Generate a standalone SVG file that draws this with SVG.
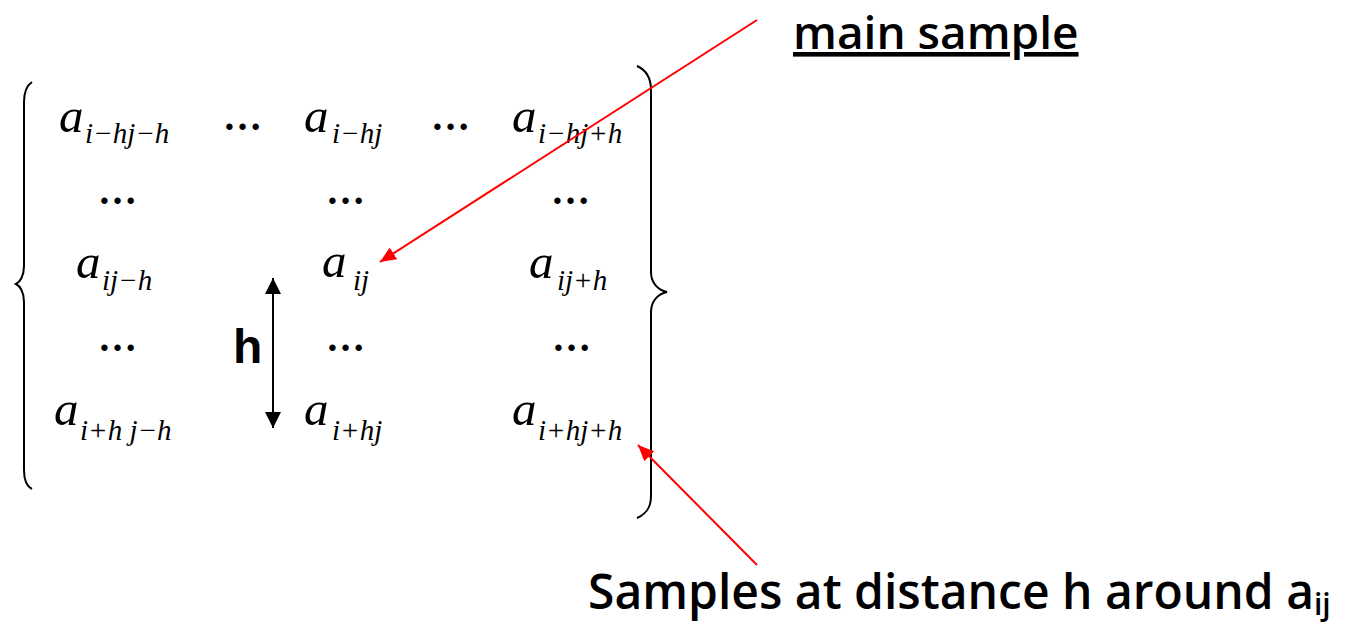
<svg xmlns="http://www.w3.org/2000/svg" width="1345" height="623" viewBox="0 0 1345 623">
<defs>
<style>
.a{font-family:"Liberation Serif",serif;font-style:italic;font-size:49px;fill:#000}
.s{font-size:29px}
.d{font-family:"Liberation Serif",serif;font-size:39px;font-weight:bold;fill:#000}
.lbl{font-family:"Open Sans","Noto Sans",sans-serif;font-weight:600;fill:#000}
.brace{fill:none;stroke:#000;stroke-width:2}
.red{stroke:#ff0000;stroke-width:2;fill:none}
.blk{stroke:#000;stroke-width:2;fill:none}
</style>
<marker id="rh" markerUnits="userSpaceOnUse" viewBox="0 0 16 14" refX="16" refY="7" markerWidth="16" markerHeight="14" orient="auto">
<path d="M0,0 L16,7 L0,14 z" fill="#ff0000"/>
</marker>
<marker id="bh" markerUnits="userSpaceOnUse" viewBox="0 0 16 16" refX="16" refY="8" markerWidth="16" markerHeight="16" orient="auto-start-reverse">
<path d="M0,0 L16,8 L0,16 z" fill="#000"/>
</marker>
</defs>
<g id="matrix">
<path id="left-brace" class="brace" d="M32,82 C26,86 24,92 24,102 L24,266 C24,276 20,282 16,284 C20,286 24,292 24,302 L24,470 C24,480 26,486 32,489"/>
<path id="right-brace" class="brace" d="M637,66 C646,70 651,78 651,90 L651,272 C651,283 658,290 667,292 C658,294 651,301 651,312 L651,496 C651,508 646,514 637,518"/>
<text class="a" x="59" y="132">a<tspan class="s" x="85" y="143">i−hj−h</tspan></text>
<text class="d" x="223" y="130">…</text>
<text class="a" x="304" y="132">a<tspan class="s" x="332" y="143">i−hj</tspan></text>
<text class="d" x="431" y="130">…</text>
<text class="a" x="512" y="132">a<tspan class="s" x="538" y="143">i−hj+h</tspan></text>
<text class="d" x="98" y="204">…</text>
<text class="d" x="326" y="204">…</text>
<text class="d" x="551" y="204">…</text>
<text class="a" x="76" y="278">a<tspan class="s" x="102" y="290">ij−h</tspan></text>
<text class="a" x="322" y="277">a<tspan class="s" x="353" y="290">ij</tspan></text>
<text class="a" x="529" y="278">a<tspan class="s" x="557" y="290">ij+h</tspan></text>
<text class="d" x="98" y="351">…</text>
<text class="d" x="326" y="351">…</text>
<text class="d" x="552" y="351">…</text>
<text class="a" x="54" y="425">a<tspan class="s" x="80" y="440">i+h j−h</tspan></text>
<text class="a" x="304" y="425">a<tspan class="s" x="332" y="440">i+hj</tspan></text>
<text class="a" x="512" y="425">a<tspan class="s" x="538" y="440">i+hj+h</tspan></text>
</g>
<g id="distance">
<text x="233" y="363" font-family="Liberation Sans,sans-serif" font-weight="bold" font-size="48">h</text>
</g>
<g id="main-label">
<text class="lbl" x="793" y="49" font-size="46" text-decoration="underline">main sample</text>
</g>
<g id="around-label">
<text class="lbl" x="588" y="609" font-size="48">Samples at distance h around a<tspan font-size="30" dy="6">ij</tspan></text>
</g>
<g id="connectors">
<line class="blk" x1="273" y1="278" x2="273" y2="428" marker-start="url(#bh)" marker-end="url(#bh)"/>
<line class="red" x1="757" y1="20" x2="380" y2="262" marker-end="url(#rh)"/>
<line class="red" x1="757" y1="565" x2="638" y2="445" marker-end="url(#rh)"/>
</g>
</svg>
